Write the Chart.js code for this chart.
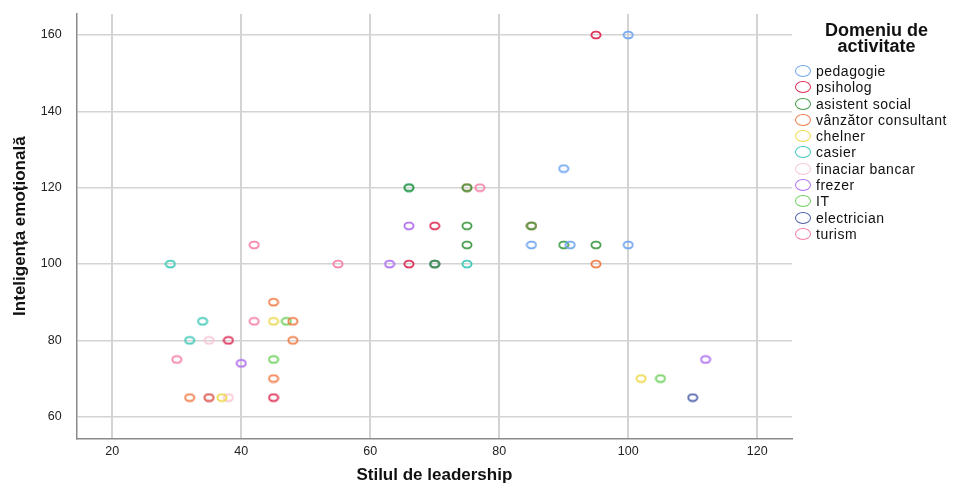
<!DOCTYPE html>
<html>
<head>
<meta charset="utf-8">
<script src="https://cdn.jsdelivr.net/npm/chart.js@4.4.1/dist/chart.umd.min.js"></script>
<style>
  body { margin: 0; background: #fff; }
  #wrap { position: relative; width: 958px; height: 486px; }
  #legend { position: absolute; left: 795px; top: 22px; width: 163px; font-family: "Liberation Sans", Arial, sans-serif; color: #111; }
  #legend .title { font-weight: bold; font-size: 18px; line-height: 16px; text-align: center; margin-bottom: 9px; }
  #legend .item { height: 16.27px; display: flex; align-items: center; font-size: 14px; letter-spacing: 0.5px; white-space: nowrap; }
  #legend .mk { box-sizing: border-box; width: 16px; height: 12px; border: 1.6px solid; border-radius: 50%; margin-right: 5px; flex: none; }
</style>
</head>
<body>
<div id="wrap">
  <canvas id="chart" width="958" height="486"></canvas>
  <div id="legend"></div>
</div>
<script>
// Domeniu de activitate -> points [Stilul de leadership, Inteligenta emotionala]
let categories = ['pedagogie', 'psiholog', 'asistent social', 'vânzător consultant', 'chelner', 'casier',
                  'finaciar bancar', 'frezer', 'IT', 'electrician', 'turism'];

let pedagogie  = [[100,160],[90,125],[85,105],[91,105],[100,105]];
let psiholog   = [[95,160],[70,110],[66,100],[38,80],[45,65]];
let asistent   = [[75,120],[75,110],[85,110],[75,105],[90,105],[95,105],[70,100],[66,120]];
let vanzator   = [[75,120],[85,110],[95,100],[45,90],[48,85],[48,80],[45,70],[32,65],[35,65]];
let chelner    = [[45,85],[102,70],[37,65]];
let casier     = [[66,120],[29,100],[75,100],[34,85],[32,80]];
let financiar  = [[35,80],[38,65]];
let frezer     = [[66,110],[63,100],[40,74],[112,75],[35,65]];
let it         = [[47,85],[45,75],[105,70]];
let electrician = [[110,65],[70,100]];
let turism     = [[77,120],[42,105],[55,100],[42,85],[30,75]];

let xTicks = [20, 40, 60, 80, 100, 120];
let yTicks = [60, 80, 100, 120, 140, 160];

let colors = ['#6ea3ee', '#dc2a52', '#3f9a45', '#f07a45', '#ecd84a', '#3cc8b6',
              '#f8c4d6', '#ae6cf0', '#6ccf5a', '#4a5ea8', '#f47ea6'];
let series = [pedagogie, psiholog, asistent, vanzator, chelner, casier, financiar, frezer, it, electrician, turism];

// little ellipse marker, like the stretched SPSS circles
function marker(color){
    let c = document.createElement('canvas');
    c.width = 12; c.height = 10;
    let ctx = c.getContext('2d');
    ctx.globalAlpha = 0.95;
    ctx.strokeStyle = color;
    ctx.lineWidth = 1.8;
    ctx.beginPath();
    ctx.ellipse(6, 5, 4.6, 3.4, 0, 0, Math.PI * 2);
    ctx.stroke();
    return c;
}

let datasets = categories.map((name, i) => ({
    label: name,
    data: series[i].map(p => ({x: p[0], y: p[1]})),
    pointStyle: marker(colors[i]),
    pointRadius: 5,
    borderColor: colors[i],
    backgroundColor: 'transparent'
}));

const font = '"Liberation Sans", Arial, sans-serif';

new Chart(document.getElementById('chart'), {
    type: 'scatter',
    data: { datasets: datasets },
    options: {
        responsive: false,
        animation: false,
        events: [],
        layout: { padding: { top: 14, right: 166, bottom: 0, left: 0 } },
        plugins: { legend: { display: false }, tooltip: { enabled: false } },
        scales: {
            x: {
                min: 14.48, max: 125.4,
                afterBuildTicks: s => { s.ticks = xTicks.map(v => ({value: v})); },
                afterFit: s => { s.height = 47.7; },
                grid: { color: '#d3d3d3', lineWidth: 2, drawTicks: false },
                border: { color: '#8a8a8a', width: 1.5 },
                ticks: { color: '#222', font: { family: font, size: 12.5 }, padding: 6, maxRotation: 0 },
                title: { display: true, text: 'Stilul de leadership', color: '#111',
                         font: { family: font, size: 17, weight: 'bold' }, padding: { top: -1, bottom: 0 } }
            },
            y: {
                min: 54.34, max: 165.5,
                afterBuildTicks: s => { s.ticks = yTicks.map(v => ({value: v})); },
                afterFit: s => { s.width = 76.7; },
                grid: { color: '#d3d3d3', lineWidth: 1.5, drawTicks: true, tickLength: 12, tickColor: 'transparent' },
                border: { color: '#8a8a8a', width: 1.5 },
                ticks: { color: '#222', font: { family: font, size: 12.5 }, padding: 3 },
                title: { display: true, text: 'Inteligența emoțională', color: '#111',
                         font: { family: font, size: 17, weight: 'bold' }, padding: { top: 10, bottom: 0 } }
            }
        }
    }
});

// legend on the right
let legend = document.getElementById('legend');
legend.innerHTML = '<div class="title">Domeniu de<br>activitate</div>' +
    categories.map((name, i) => `<div class="item"><span class="mk" style="border-color:${colors[i]}"></span>${name}</div>`).join('');
</script>
</body>
</html>
